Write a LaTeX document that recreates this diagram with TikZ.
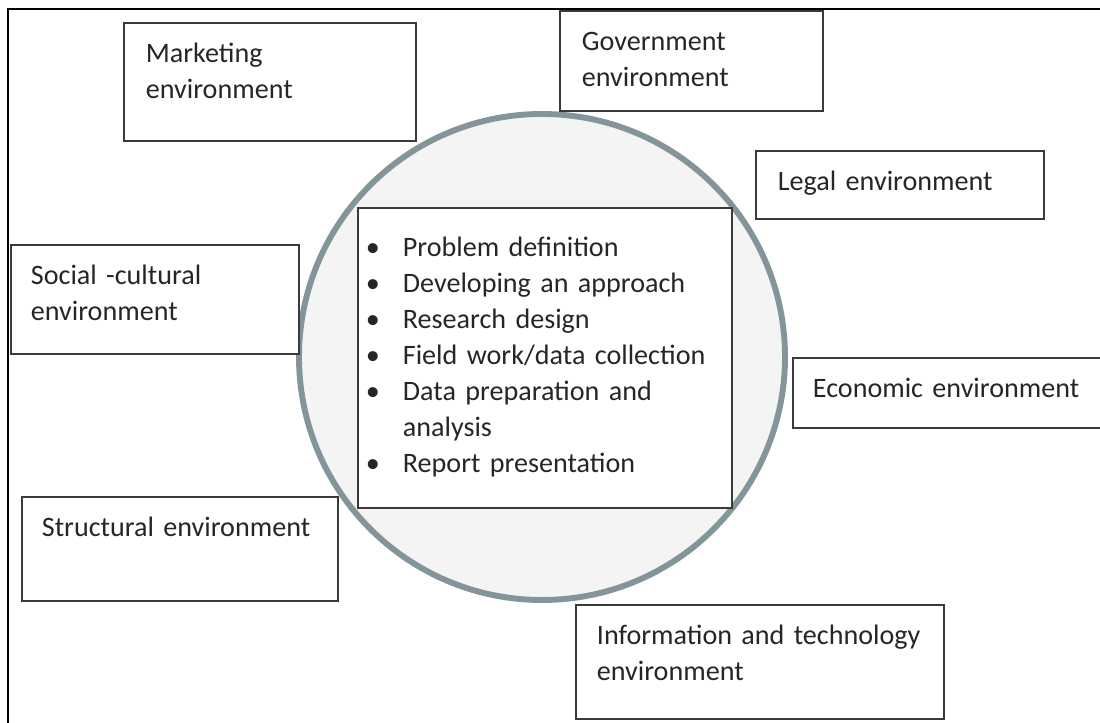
\documentclass[tikz,border=0pt]{standalone}
\usepackage{fontspec}
\setmainfont{Carlito}
\usepackage{tikz}
\usetikzlibrary{positioning}

\definecolor{ringgray}{HTML}{83959B}
\definecolor{ringfill}{HTML}{F4F4F4}
\definecolor{boxline}{HTML}{3A3A3A}

% one bullet line with hanging indent
\newcommand{\bulletline}[1]{\noindent\hangindent=0.925cm\hangafter=1\makebox[0.925cm][l]{\textbullet}#1\par}

\begin{document}
\begin{tikzpicture}[
    font=\fontsize{20pt}{25.6pt}\selectfont,
    env/.style={
		rectangle,
		draw=boxline,
		line width=1.3pt,
		fill=white,
		anchor=north west,
		align=left,
		inner xsep=0.55cm,
		inner ysep=0pt,
		text height=0.98cm,
		text=black!85
	},
	ring/.style={
		circle,
		draw=ringgray,
		line width=4.2pt,
		fill=ringfill,
		inner sep=0pt,
		minimum size=12.15cm
	},
	steplist/.style={
		rectangle,
		draw=boxline,
		line width=1.3pt,
		fill=white,
		anchor=north west,
		align=left,
		inner xsep=0.2cm,
		inner ysep=0pt,
		text width=8.95cm,
		text height=1.22cm,
		text depth=6.28cm,
		text=black!85
	}
  ]
  \useasboundingbox (0,0) rectangle (27.5,18.075);

  % outer frame, only left and top sides show
  \draw [line width=1.6pt] (0.2,0) |- (27.5,17.85);

  % the ring with the research steps in the middle
  \node [ring] (ring) at (13.55,9.15) {};

  \node [steplist] (steps) at (8.925,12.9)
 {%
  \bulletline{Problem definition}%
  \bulletline{Developing an approach}%
  \bulletline{Research design}%
  \bulletline{Field work/data collection}%
  \bulletline{Data preparation and\newline analysis}%
  \bulletline{Report presentation}%
 };

  % the environments around it
  \node [env, text width=6.2cm, text depth=1.97cm] (marketing) at (3.075,17.525)
 {Marketing\\environment};

  \node [env, text width=5.475cm, text depth=1.52cm] (government) at (13.975,17.825)
 {Government\\environment};

  \node [env, text width=6.1cm, text depth=0.72cm] (legal) at (18.875,14.325)
 {Legal environment};

  \node [env, text width=6.2cm, text depth=1.745cm, inner xsep=0.5cm] (social) at (0.25,11.975)
 {Social -cultural\\environment};

  \node [env, text width=6.9cm, text depth=0.77cm, inner xsep=0.5cm] (economic) at (19.8,9.15)
 {Economic environment};

  \node [env, text width=6.9cm, text depth=1.62cm, inner xsep=0.5cm] (structural) at (0.525,5.675)
 {Structural environment};

  \node [env, text width=8.15cm, text depth=1.87cm, inner xsep=0.525cm] (infotech) at (14.375,2.975)
 {Information and technology\\environment};

\end{tikzpicture}
\end{document}
